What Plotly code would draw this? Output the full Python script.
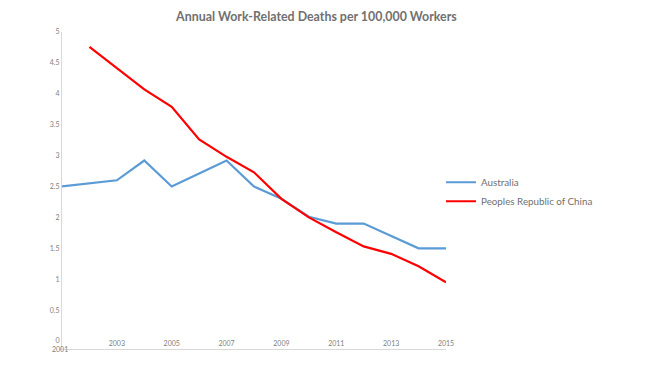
import plotly.graph_objects as go

years = list(range(2001, 2016))
australia = [2.5, 2.55, 2.6, 2.92, 2.5, 2.71, 2.92, 2.5, 2.3, 2.01, 1.9, 1.9, 1.7, 1.5, 1.5]
china_years = list(range(2002, 2016))
china = [4.76, 4.41, 4.07, 3.79, 3.26, 2.98, 2.73, 2.3, 2.0, 1.76, 1.53, 1.41, 1.21, 0.95]
x_ticks = [2003, 2005, 2007, 2009, 2011, 2013, 2015]
y_ticks = [0, 0.5, 1, 1.5, 2, 2.5, 3, 3.5, 4, 4.5, 5]
title = "Annual Work-Related Deaths per 100,000 Workers"

fig = go.Figure()
fig.add_trace(go.Scatter(x=years, y=australia, mode="lines", name="Australia",
                         line=dict(color="#5B9BD5", width=2.2)))
fig.add_trace(go.Scatter(x=china_years, y=china, mode="lines", name="Peoples Republic of China",
                         line=dict(color="#FF0000", width=2.2)))

fig.add_annotation(x=2001, y=0, xref="x", yref="paper", text="2001", showarrow=False,
                   xanchor="center", yanchor="middle", xshift=-2,
                   font=dict(family="Lato", size=7, color="#808080"))

# page body has an 8px margin, so the figure is offset by 8px; margins compensate
fig.update_layout(
    width=672, height=372,
    margin=dict(l=54, r=234, t=24, b=31, autoexpand=False),
    paper_bgcolor="white", plot_bgcolor="white",
    title=dict(text=title, x=0.459, xanchor="center", y=0.976, yanchor="middle",
               font=dict(family="Lato", size=12.4, color="#707070", weight="bold")),
    showlegend=True,
    legend=dict(x=0.987, xanchor="left", y=0.496, yanchor="middle",
                font=dict(family="Lato", size=9.8, color="#707070"),
                bgcolor="rgba(0,0,0,0)", tracegroupgap=0),
    xaxis=dict(range=[2001, 2015], tickvals=x_ticks, ticktext=[str(v) for v in x_ticks],
               showgrid=False, zeroline=False, showline=True, linecolor="#D9D9D9", linewidth=1,
               ticks="", ticklabelposition="inside", ticklabeloverflow="allow", automargin=False,
               tickfont=dict(family="Lato", size=7, color="#808080")),
    yaxis=dict(range=[-0.13, 5.0], tickvals=y_ticks, ticktext=[f"{v:g}" for v in y_ticks],
               showgrid=False, zeroline=False, showline=True, linecolor="#D9D9D9", linewidth=1,
               ticks="", automargin=False, ticklabeloverflow="allow",
               tickfont=dict(family="Lato", size=7, color="#808080")),
)

fig.write_html("out.html")
